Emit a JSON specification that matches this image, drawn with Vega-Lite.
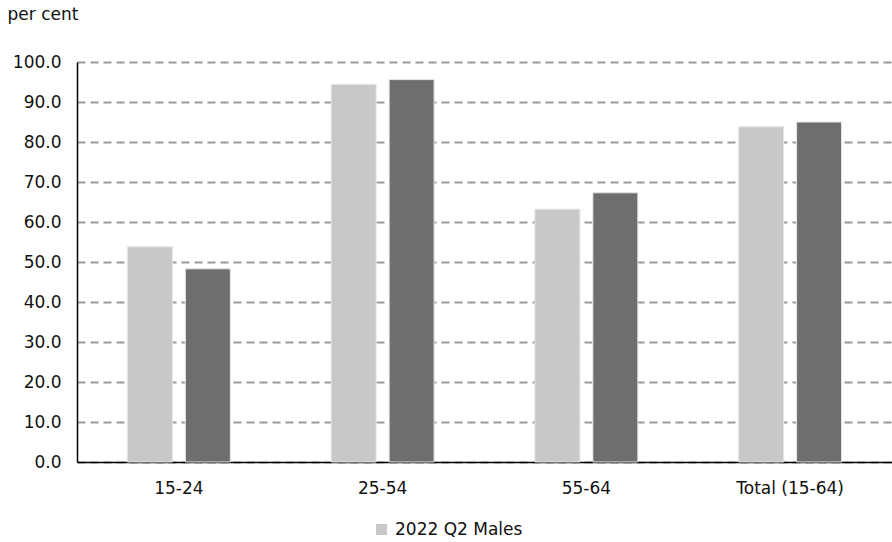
{
  "$schema": "https://vega.github.io/schema/vega-lite/v6.json",
  "width": 815,
  "height": 400,
  "autosize": {"type": "none"},
  "padding": {"left": 77, "top": 62, "right": 0, "bottom": 80},
  "background": "white",
  "config": {
    "font": "DejaVu Sans",
    "view": {"stroke": null}
  },
  "data": {
    "values": [
      {"group": "15-24", "series": "2022 Q2 Males", "value": 53.8},
      {"group": "15-24", "series": "2023 Q2 Males", "value": 48.3},
      {"group": "25-54", "series": "2022 Q2 Males", "value": 94.4},
      {"group": "25-54", "series": "2023 Q2 Males", "value": 95.6},
      {"group": "55-64", "series": "2022 Q2 Males", "value": 63.2},
      {"group": "55-64", "series": "2023 Q2 Males", "value": 67.3},
      {"group": "Total (15-64)", "series": "2022 Q2 Males", "value": 83.8},
      {"group": "Total (15-64)", "series": "2023 Q2 Males", "value": 85.0}
    ]
  },
  "mark": {"type": "bar", "stroke": "#e6e6e6", "strokeWidth": 1},
  "encoding": {
    "x": {
      "field": "group",
      "type": "nominal",
      "sort": null,
      "scale": {"paddingInner": 0, "paddingOuter": 0},
      "axis": {
        "title": null,
        "labelAngle": 0,
        "ticks": false,
        "domainColor": "#000000",
        "domainWidth": 1.5,
        "labelFontSize": 17,
        "labelColor": "#111111",
        "labelPadding": 18
      }
    },
    "xOffset": {
      "field": "series",
      "type": "nominal",
      "scale": {"paddingInner": 0.224, "paddingOuter": 0.87}
    },
    "y": {
      "field": "value",
      "type": "quantitative",
      "scale": {"domain": [0, 100], "nice": false},
      "axis": {
        "values": [0, 10, 20, 30, 40, 50, 60, 70, 80, 90, 100],
        "format": ".1f",
        "ticks": false,
        "domainColor": "#000000",
        "domainWidth": 1.5,
        "grid": true,
        "gridColor": "#999999",
        "gridWidth": 2,
        "gridDash": [8, 5],
        "labelFontSize": 17,
        "labelColor": "#111111",
        "labelPadding": 16,
        "title": "per cent",
        "titleAngle": 0,
        "titleX": -70,
        "titleY": -43,
        "titleAlign": "left",
        "titleBaseline": "alphabetic",
        "titleFontSize": 17,
        "titleFontWeight": "normal",
        "titleColor": "#111111"
      }
    },
    "color": {
      "field": "series",
      "type": "nominal",
      "scale": {"domain": ["2022 Q2 Males", "2023 Q2 Males"], "range": ["#c8c8c8", "#6e6e6e"]},
      "legend": {
        "values": ["2022 Q2 Males"],
        "title": null,
        "orient": "none",
        "legendX": 296,
        "legendY": 459,
        "symbolType": "square",
        "symbolSize": 121,
        "symbolStrokeWidth": 0,
        "labelFontSize": 17,
        "labelColor": "#111111",
        "labelOffset": 5
      }
    }
  }
}
